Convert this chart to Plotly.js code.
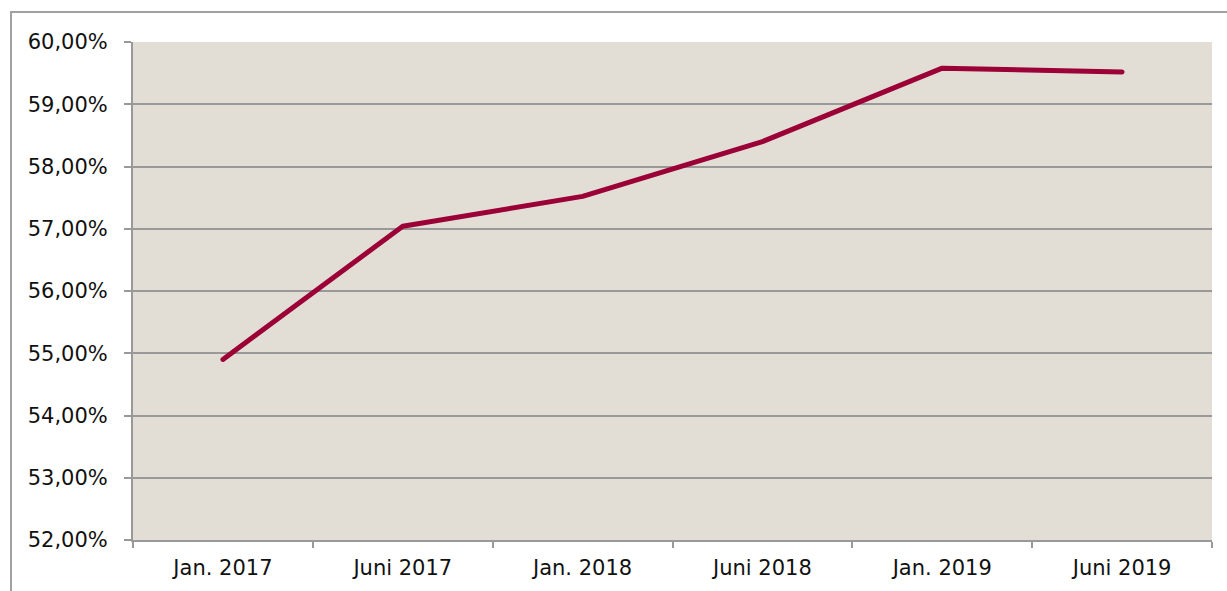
<!DOCTYPE html>
<html>
<head>
<meta charset="utf-8">
<script src="https://cdn.plot.ly/plotly-3.0.1.min.js"></script>
<style>
html,body{margin:0;padding:0;background:#fff;}
#wrap{position:relative;width:1227px;height:591px;overflow:hidden;}
#frame{position:absolute;left:10px;top:11px;width:1300px;height:700px;border-left:2px solid #a0a0a0;border-top:2px solid #a0a0a0;pointer-events:none;z-index:5;}
#chart{position:absolute;left:0;top:0;width:1227px;height:591px;}
</style>
</head>
<body>
<div id="wrap"><div id="chart"></div><div id="frame"></div></div>
<script>
var categories = ["Jan. 2017", "Juni 2017", "Jan. 2018", "Juni 2018", "Jan. 2019", "Juni 2019"];
var values = [54.90, 57.04, 57.52, 58.40, 59.58, 59.52];
var yTicks = [52, 53, 54, 55, 56, 57, 58, 59, 60];
var yTickLabels = yTicks.map(function (v) { return v.toFixed(2).replace('.', ',') + '%'; });

var trace = {
  type: 'scatter', mode: 'lines',
  x: categories, y: values,
  line: {color: '#9b0036', width: 5, shape: 'linear'},
  hoverinfo: 'x+y'
};
var layout = {
  width: 1227, height: 591,
  margin: {l: 133, r: 15, t: 42, b: 51},
  paper_bgcolor: '#ffffff',
  plot_bgcolor: '#e2ded5',
  showlegend: false,
  font: {family: 'DejaVu Sans, Verdana, sans-serif', size: 21, color: '#111'},
  xaxis: {
    type: 'category', range: [-0.5, 5.5],
    tickson: 'boundaries', ticks: 'outside', ticklen: 6, tickwidth: 2, tickcolor: '#999',
    showgrid: false, showline: true, linecolor: '#999', linewidth: 2,
    ticklabelstandoff: 8,
    tickfont: {size: 21}, fixedrange: true
  },
  yaxis: {
    range: [52, 60], tickmode: 'array', tickvals: yTicks, ticktext: yTickLabels,
    ticks: 'outside', ticklen: 7, tickwidth: 2, tickcolor: '#999',
    showgrid: true, gridcolor: '#999', gridwidth: 2,
    showline: true, linecolor: '#999', linewidth: 2, zeroline: false,
    ticklabelstandoff: 12,
    tickfont: {size: 21}, fixedrange: true
  }
};
Plotly.newPlot('chart', [trace], layout, {displayModeBar: false, staticPlot: true}).then(function () {
  var p = document.querySelectorAll('.scatterlayer path.js-line');
  p.forEach(function (el) { el.style.strokeLinecap = 'round'; el.style.strokeLinejoin = 'round'; });
});
</script>
</body>
</html>
